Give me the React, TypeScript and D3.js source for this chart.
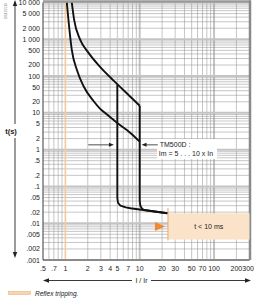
import React from "react";
import * as d3 from "d3";

// ---- data ----
const Y_TICKS = [10000, 5000, 2000, 1000, 500, 200, 100, 50, 20, 10, 5, 2, 1, 0.5, 0.2, 0.1, 0.05, 0.02, 0.01, 0.005, 0.002, 0.001];
const Y_LABELS = ["10 000", "5 000", "2 000", "1 000", "500", "200", "100", "50", "20", "10", "5", "2", "1", ".5", ".2", ".1", ".05", ".02", ".01", ".005", ".002", ".001"];
const X_TICKS = [0.5, 0.7, 1, 2, 3, 4, 5, 7, 10, 20, 30, 50, 70, 100, 200, 300];
const X_LABELS = [".5", ".7", "1", "2", "3", "4", "5", "7", "10", "20", "30", "50", "70", "100", "200", "300"];

// upper thermal curve (max time)
const UPPER_I = [1.22, 1.31, 1.58, 2.05, 2.95, 4.46, 5.49, 7.49, 10];
const UPPER_T = [10000, 3440, 982, 426, 175, 75, 50, 27.5, 15.6];
// lower thermal curve (min time)
const LOWER_I = [1.045, 1.1, 1.22, 1.43, 1.75, 2.39, 2.92, 3.63, 5.2, 7.5, 10];
const LOWER_T = [10000, 3345, 512, 146, 53.7, 21.0, 13.1, 9.0, 4.98, 2.84, 1.65];
// magnetic trip at Im = 10 x In
const MAG10_I = [10, 10, 10.2, 10.8, 11.5, 23.5];
const MAG10_T = [15.6, 0.04, 0.03, 0.0245, 0.0228, 0.0186];
// magnetic trip at Im = 5 x In
const MAG5_I = [5, 5, 5.1, 5.5, 6.5, 7.5, 23.5];
const MAG5_T = [58, 0.05, 0.036, 0.03, 0.027, 0.0255, 0.0186];

// reflex tripping zone
const REFLEX_I = [24, 300];
const REFLEX_T = [0.0186, 0.0036];
const REFLEX_LINE_T = [0.026, 0.0034];
const REFLEX_LABEL = "t < 10 ms";

// annotation
const ANNOT_T = 1.35;
const ANNOT_LEFT_I = [2.03, 4.5];
const ANNOT_RIGHT_I = [10.6, 17.5];
const ANNOT_TEXT = ["TM500D :", "Im = 5 . . . 10 x In"];

const W = 254;
const H = 299;
const FONT = "'Liberation Sans', Arial, Helvetica, sans-serif";

export default function App() {
  const x = d3.scaleLog().domain([0.5, 300]).range([43, 249.5]);
  const y = d3.scaleLog().domain([0.001, 10000]).range([260, 2.5]);
  const [x0, x1] = x.range();
  const [y1, y0] = y.range();

  const xGrid: number[] = [];
  [0.1, 1, 10, 100].forEach((d) => {
    for (let m = 1; m <= 9; m++) {
      const v = +(m * d).toPrecision(3);
      if (v >= 0.5 && v <= 300) xGrid.push(v);
    }
  });
  const yGrid: number[] = [];
  [0.001, 0.01, 0.1, 1, 10, 100, 1000].forEach((d) => {
    for (let m = 1; m <= 9; m++) yGrid.push(+(m * d).toPrecision(3));
  });
  yGrid.push(10000);
  const isDecade = (v: number) => Math.abs(Math.log10(v) - Math.round(Math.log10(v))) < 1e-6;

  const thermal = d3
    .line<[number, number]>()
    .x((d) => x(d[0]))
    .y((d) => y(d[1]))
    .curve(d3.curveMonotoneX);
  const lin = d3
    .line<[number, number]>()
    .x((d) => x(d[0]))
    .y((d) => y(d[1]));
  const zip = (a: number[], b: number[]) => a.map((v, i) => [v, b[i]] as [number, number]);

  const ay = y(ANNOT_T);
  const rx0 = x(REFLEX_I[0]);
  const ry0 = y(REFLEX_T[0]);
  const ry1 = y(REFLEX_T[1]);
  const ryMid = (ry0 + ry1) / 2;

  return (
    <svg width={W} height={H} style={{ position: "absolute", left: 0, top: 0, background: "#fff" }} fontFamily={FONT}>
      <defs>
        <clipPath id="plot">
          <rect x={x0} y={y0} width={x1 - x0} height={y1 - y0} />
        </clipPath>
      </defs>
      {/* grid */}
      <g>
        {xGrid.map((v) =>
          v === 1 ? null : (
            <line key={"xg" + v} x1={x(v)} x2={x(v)} y1={y0} y2={y1} stroke={isDecade(v) ? "#c4c4c4" : "#8c8c8c"} strokeWidth={isDecade(v) ? 2 : 0.5} />
          )
        )}
        {yGrid.map((v) => (
          <line key={"yg" + v} x1={x0} x2={x1} y1={y(v)} y2={y(v)} stroke={isDecade(v) ? "#c4c4c4" : "#8c8c8c"} strokeWidth={isDecade(v) ? 2 : 0.5} />
        ))}
        <line x1={x(1)} x2={x(1)} y1={y0} y2={y1} stroke="#f5c99c" strokeWidth={1.6} />
      </g>
      {/* borders */}
      <line x1={x0} x2={x0} y1={y0} y2={y1} stroke="#333" strokeWidth={0.8} />
      <line x1={x0} x2={x1} y1={y1} y2={y1} stroke="#333" strokeWidth={0.8} />
      <line x1={x0} x2={x1 + 1.5} y1={y0 - 1} y2={y0 - 1} stroke="#9a9a9a" strokeWidth={2.5} />
      <line x1={x1 + 0.5} x2={x1 + 0.5} y1={y0 - 2} y2={y1} stroke="#8a8a8a" strokeWidth={2.5} />

      {/* reflex zone */}
      <rect x={rx0} y={ry0} width={x1 - rx0} height={ry1 - ry0} fill="#fbe3c9" />
      <line x1={rx0} x2={rx0} y1={y(REFLEX_LINE_T[0])} y2={y(REFLEX_LINE_T[1])} stroke="#f0a368" strokeWidth={1} />
      <path d={`M${rx0 - 13},${ryMid - 4.5} L${rx0 - 3},${ryMid} L${rx0 - 13},${ryMid + 4.5} Z`} fill="#ef8a2e" />
      <text x={(rx0 + x1) / 2} y={ryMid} fontSize={7} textAnchor="middle" dominantBaseline="central" fill="#222">
        {REFLEX_LABEL}
      </text>

      {/* annotation box */}
      <rect x={157} y={139} width={60} height={20} fill="#fff" />

      {/* curves */}
      <g clipPath="url(#plot)" fill="none" stroke="#111" strokeWidth={1.9} strokeLinejoin="round">
        <path d={thermal(zip(UPPER_I, UPPER_T)) || ""} />
        <path d={thermal(zip(LOWER_I, LOWER_T)) || ""} />
        <path d={lin(zip(MAG10_I, MAG10_T)) || ""} />
        <path d={lin(zip(MAG5_I, MAG5_T)) || ""} />
      </g>

      {/* annotation arrows & text */}
      <line x1={x(ANNOT_LEFT_I[0])} x2={x(ANNOT_LEFT_I[1]) - 4} y1={ay} y2={ay} stroke="#222" strokeWidth={0.8} />
      <path d={`M${x(ANNOT_LEFT_I[1])},${ay} l-5,-2 l0,4 Z`} fill="#222" />
      <line x1={x(ANNOT_RIGHT_I[1])} x2={x(ANNOT_RIGHT_I[0]) + 4} y1={ay} y2={ay} stroke="#222" strokeWidth={0.8} />
      <path d={`M${x(ANNOT_RIGHT_I[0])},${ay} l5,-2 l0,4 Z`} fill="#222" />
      <text x={x(ANNOT_RIGHT_I[1]) + 2} y={ay} fontSize={7} dominantBaseline="central" fill="#222">
        {ANNOT_TEXT[0]}
      </text>
      <text x={x(ANNOT_RIGHT_I[1]) + 1} y={ay + 8.5} fontSize={7} dominantBaseline="central" fill="#222">
        {ANNOT_TEXT[1]}
      </text>

      {/* y tick labels */}
      {Y_TICKS.map((v, i) => (
        <text key={"yl" + v} x={40} y={y(v)} fontSize={7} textAnchor="end" dominantBaseline="central" fill="#222">
          {Y_LABELS[i]}
        </text>
      ))}
      {/* x tick labels */}
      {X_TICKS.map((v, i) => (
        <text key={"xl" + v} x={x(v)} y={268} fontSize={7} textAnchor={v === 300 ? "end" : "middle"} dx={v === 300 ? 4.5 : 0} dominantBaseline="central" fill="#222">
          {X_LABELS[i]}
        </text>
      ))}

      {/* y axis arrow */}
      <line x1={15} x2={15} y1={4} y2={124} stroke="#222" strokeWidth={0.9} />
      <line x1={15} x2={15} y1={138} y2={253} stroke="#222" strokeWidth={0.9} />
      <path d="M15,0 l-2.2,6 l4.4,0 Z" fill="#222" />
      <path d="M15,258 l-2.2,-6 l4.4,0 Z" fill="#222" />
      <text x={11} y={131} fontSize={7.5} textAnchor="middle" dominantBaseline="central" fill="#222" fontWeight="bold">
        t(s)
      </text>

      {/* x axis arrow */}
      <line x1={47} x2={132} y1={280.5} y2={280.5} stroke="#222" strokeWidth={0.9} />
      <line x1={151} x2={246} y1={280.5} y2={280.5} stroke="#222" strokeWidth={0.9} />
      <path d="M43,280.5 l6,-2.2 l0,4.4 Z" fill="#222" />
      <path d="M251,280.5 l-6,-2.2 l0,4.4 Z" fill="#222" />
      <text x={141.5} y={280.5} fontSize={7} textAnchor="middle" dominantBaseline="central" fill="#222">
        I / Ir
      </text>

      {/* corner id */}
      <text transform="translate(6,11) rotate(-90)" fontSize={3.5} textAnchor="middle" dominantBaseline="central" fill="#888">
        DB125510
      </text>

      {/* legend */}
      <rect x={8.5} y={291.5} width={22} height={3} fill="#f8d6ad" stroke="#e8b47e" strokeWidth={0.6} />
      <text x={35} y={293.3} fontSize={6.5} fontStyle="italic" dominantBaseline="central" fill="#222">
        Reflex tripping.
      </text>
    </svg>
  );
}
